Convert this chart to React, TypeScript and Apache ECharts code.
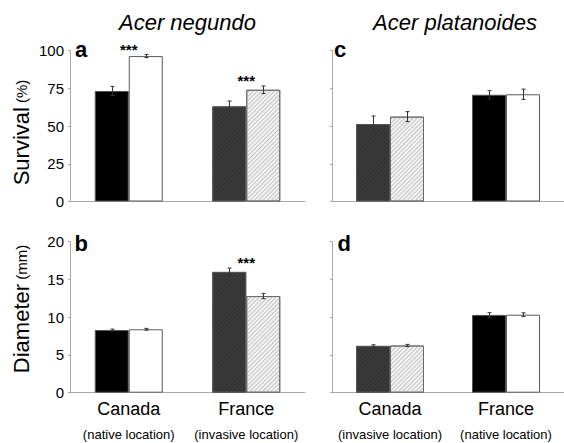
import React, { useEffect, useRef } from "react";
import * as echarts from "echarts";

const categories = ["Canada", "France"];
const locationsB = ["(native location)", "(invasive location)"];
const locationsD = ["(invasive location)", "(native location)"];

// Panel a: Acer negundo survival (%)
const survNegFirst = [73.2, 63.0];
const survNegFirstErr = [3.0, 3.5];
const survNegSecond = [96.3, 74.0];
const survNegSecondErr = [1.0, 2.5];
const sigA = ["***", "***"];

// Panel b: Acer negundo diameter (mm)
const diamNegFirst = [8.3, 16.0];
const diamNegFirstErr = [0.12, 0.5];
const diamNegSecond = [8.4, 12.8];
const diamNegSecondErr = [0.12, 0.35];
const sigB = ["", "***"];

// Panel c: Acer platanoides survival (%)
const survPlaFirst = [51.3, 70.7];
const survPlaFirstErr = [5.3, 2.7];
const survPlaSecond = [56.2, 71.0];
const survPlaSecondErr = [3.3, 3.4];

// Panel d: Acer platanoides diameter (mm)
const diamPlaFirst = [6.2, 10.3];
const diamPlaFirstErr = [0.15, 0.3];
const diamPlaSecond = [6.25, 10.33];
const diamPlaSecondErr = [0.15, 0.25];

const survivalTicks = { min: 0, max: 100, interval: 25 };
const diameterTicks = { min: 0, max: 20, interval: 5 };

const FONT = "'Liberation Sans', Arial, Helvetica, sans-serif";
const BAR_W = 34;

const styleBlack = { color: "#000000", borderColor: "#555555", borderWidth: 1 };
const styleWhite = { color: "#ffffff", borderColor: "#5a5a5a", borderWidth: 1 };
const styleDark = {
  color: "#3a3a3a",
  borderColor: "#555555",
  borderWidth: 1,
  decal: {
    symbol: "rect",
    symbolSize: 1,
    dashArrayX: [1, 0],
    dashArrayY: [1, 2],
    rotation: -Math.PI / 4,
    color: "#323232",
  },
};
const styleHatch = {
  color: "#f2f2f2",
  borderColor: "#6a6a6a",
  borderWidth: 1,
  decal: {
    symbol: "rect",
    symbolSize: 1,
    dashArrayX: [1, 0],
    dashArrayY: [1, 2],
    rotation: -Math.PI / 4,
    color: "#c4c4c4",
  },
};

export default function App() {
  const ref = useRef<HTMLDivElement>(null);

  useEffect(() => {
    if (!ref.current) return;
    const chart = echarts.init(ref.current, undefined, { renderer: "svg" });

    const grids = [
      { left: 70, top: 50.5, width: 235, height: 151 },
      { left: 70, top: 241.7, width: 235, height: 151 },
      { left: 332, top: 50.5, width: 236, height: 151 },
      { left: 332, top: 241.7, width: 236, height: 151 },
    ];

    const xAxisBase = (gridIndex: number, subs: string[] | null) => ({
      type: "category",
      gridIndex,
      data: categories,
      axisLine: { show: true, lineStyle: { color: "#a8a8a8", width: 1 } },
      axisTick: { show: false },
      axisLabel: subs
        ? {
            show: true,
            margin: 3,
            interval: 0,
            formatter: (v: string, i: number) => `{a|${v}}\n{b|${subs[i]}}`,
            rich: {
              a: { fontSize: 18, lineHeight: 26, fontFamily: FONT, color: "#000" },
              b: { fontSize: 13, lineHeight: 25, fontFamily: FONT, color: "#000" },
            },
          }
        : { show: false },
    });

    const yAxisBase = (gridIndex: number, t: any, showLabels: boolean) => ({
      type: "value",
      gridIndex,
      min: t.min,
      max: t.max,
      interval: t.interval,
      splitLine: { show: false },
      axisLine: { show: true, lineStyle: { color: "#a8a8a8", width: 1 } },
      axisTick: { show: true, length: 2, lineStyle: { color: "#a8a8a8" } },
      axisLabel: {
        show: showLabels,
        fontSize: 15,
        fontFamily: FONT,
        color: "#000",
        margin: 6,
      },
    });

    const barSeries = (idx: number, values: number[], styles: any[]) => ({
      type: "bar",
      xAxisIndex: idx,
      yAxisIndex: idx,
      barWidth: BAR_W,
      barGap: "0%",
      data: values.map((v, i) => ({ value: v, itemStyle: styles[i] })),
      emphasis: { disabled: true },
    });

    const errSeries = (idx: number, values: number[], errs: number[], side: number) => ({
      type: "custom",
      xAxisIndex: idx,
      yAxisIndex: idx,
      z: 5,
      data: values.map((v, i) => [i, v, errs[i]]),
      encode: { x: 0, y: 1 },
      renderItem: (params: any, api: any) => {
        const ci = api.value(0);
        const v = api.value(1);
        const e = api.value(2);
        const c = api.coord([ci, v]);
        const x = Math.round(c[0] + (side * BAR_W) / 2) + 0.5;
        const top = api.coord([ci, v + e])[1];
        const bot = api.coord([ci, v - e])[1];
        const st = { stroke: "#333333", lineWidth: 1 };
        return {
          type: "group",
          children: [
            { type: "line", shape: { x1: x, y1: top, x2: x, y2: bot }, style: st },
            { type: "line", shape: { x1: x - 2, y1: top, x2: x + 2, y2: top }, style: st },
            { type: "line", shape: { x1: x - 2, y1: bot, x2: x + 2, y2: bot }, style: st },
          ],
        };
      },
    });

    const sigSeries = (
      idx: number,
      sig: string[],
      a: number[],
      ae: number[],
      b: number[],
      be: number[]
    ) => ({
      type: "custom",
      xAxisIndex: idx,
      yAxisIndex: idx,
      z: 6,
      data: sig.map((s, i) => [i, Math.max(a[i] + ae[i], b[i] + be[i])]),
      encode: { x: 0, y: 1 },
      renderItem: (params: any, api: any) => {
        const ci = api.value(0);
        const top = api.value(1);
        const s = sig[ci];
        if (!s) return null;
        const c = api.coord([ci, top]);
        return {
          type: "text",
          x: c[0],
          y: c[1] + 2,
          style: {
            text: s,
            fontSize: 15,
            fontWeight: "bold",
            fontFamily: FONT,
            fill: "#000",
            align: "center",
            verticalAlign: "bottom",
          },
        };
      },
    });

    const letter = (t: string, x: number, y: number) => ({
      type: "text",
      x,
      y,
      style: {
        text: t,
        fontSize: 22,
        fontWeight: "bold",
        fontFamily: FONT,
        fill: "#000",
        align: "left",
        verticalAlign: "middle",
      },
    });

    const yName = (main: string, unit: string, x: number, y: number) => ({
      type: "text",
      x,
      y,
      rotation: Math.PI / 2,
      style: {
        text: `{a|${main}}{b| ${unit}}`,
        align: "center",
        verticalAlign: "middle",
        rich: {
          a: { fontSize: 22, fontFamily: FONT, fill: "#000" },
          b: { fontSize: 15, fontFamily: FONT, fill: "#000" },
        },
      },
    });

    const title = (t: string, x: number) => ({
      type: "text",
      x,
      y: 22,
      style: {
        text: t,
        fontSize: 22,
        fontStyle: "italic",
        fontFamily: FONT,
        fill: "#000",
        align: "center",
        verticalAlign: "middle",
      },
    });

    const option: any = {
      animation: false,
      backgroundColor: "#ffffff",
      grid: grids,
      xAxis: [
        xAxisBase(0, null),
        xAxisBase(1, locationsB),
        xAxisBase(2, null),
        xAxisBase(3, locationsD),
      ],
      yAxis: [
        yAxisBase(0, survivalTicks, true),
        yAxisBase(1, diameterTicks, true),
        yAxisBase(2, survivalTicks, false),
        yAxisBase(3, diameterTicks, false),
      ],
      series: [
        barSeries(0, survNegFirst, [styleBlack, styleDark]),
        barSeries(0, survNegSecond, [styleWhite, styleHatch]),
        errSeries(0, survNegFirst, survNegFirstErr, -1),
        errSeries(0, survNegSecond, survNegSecondErr, 1),
        sigSeries(0, sigA, survNegFirst, survNegFirstErr, survNegSecond, survNegSecondErr),

        barSeries(1, diamNegFirst, [styleBlack, styleDark]),
        barSeries(1, diamNegSecond, [styleWhite, styleHatch]),
        errSeries(1, diamNegFirst, diamNegFirstErr, -1),
        errSeries(1, diamNegSecond, diamNegSecondErr, 1),
        sigSeries(1, sigB, diamNegFirst, diamNegFirstErr, diamNegSecond, diamNegSecondErr),

        barSeries(2, survPlaFirst, [styleDark, styleBlack]),
        barSeries(2, survPlaSecond, [styleHatch, styleWhite]),
        errSeries(2, survPlaFirst, survPlaFirstErr, -1),
        errSeries(2, survPlaSecond, survPlaSecondErr, 1),

        barSeries(3, diamPlaFirst, [styleDark, styleBlack]),
        barSeries(3, diamPlaSecond, [styleHatch, styleWhite]),
        errSeries(3, diamPlaFirst, diamPlaFirstErr, -1),
        errSeries(3, diamPlaSecond, diamPlaSecondErr, 1),
      ],
      graphic: [
        title("Acer negundo", 187.5),
        title("Acer platanoides", 455),
        letter("a", 75, 49),
        letter("b", 74.5, 243.3),
        letter("c", 334, 49),
        letter("d", 337.5, 243.3),
        yName("Survival", "(%)", 21, 132.5),
        yName("Diameter", "(mm)", 21, 309),
      ],
    };

    chart.setOption(option);
    return () => chart.dispose();
  }, []);

  return (
    <div
      ref={ref}
      style={{
        position: "fixed",
        left: 0,
        top: 0,
        width: 564,
        height: 443,
        background: "#fff",
      }}
    />
  );
}
